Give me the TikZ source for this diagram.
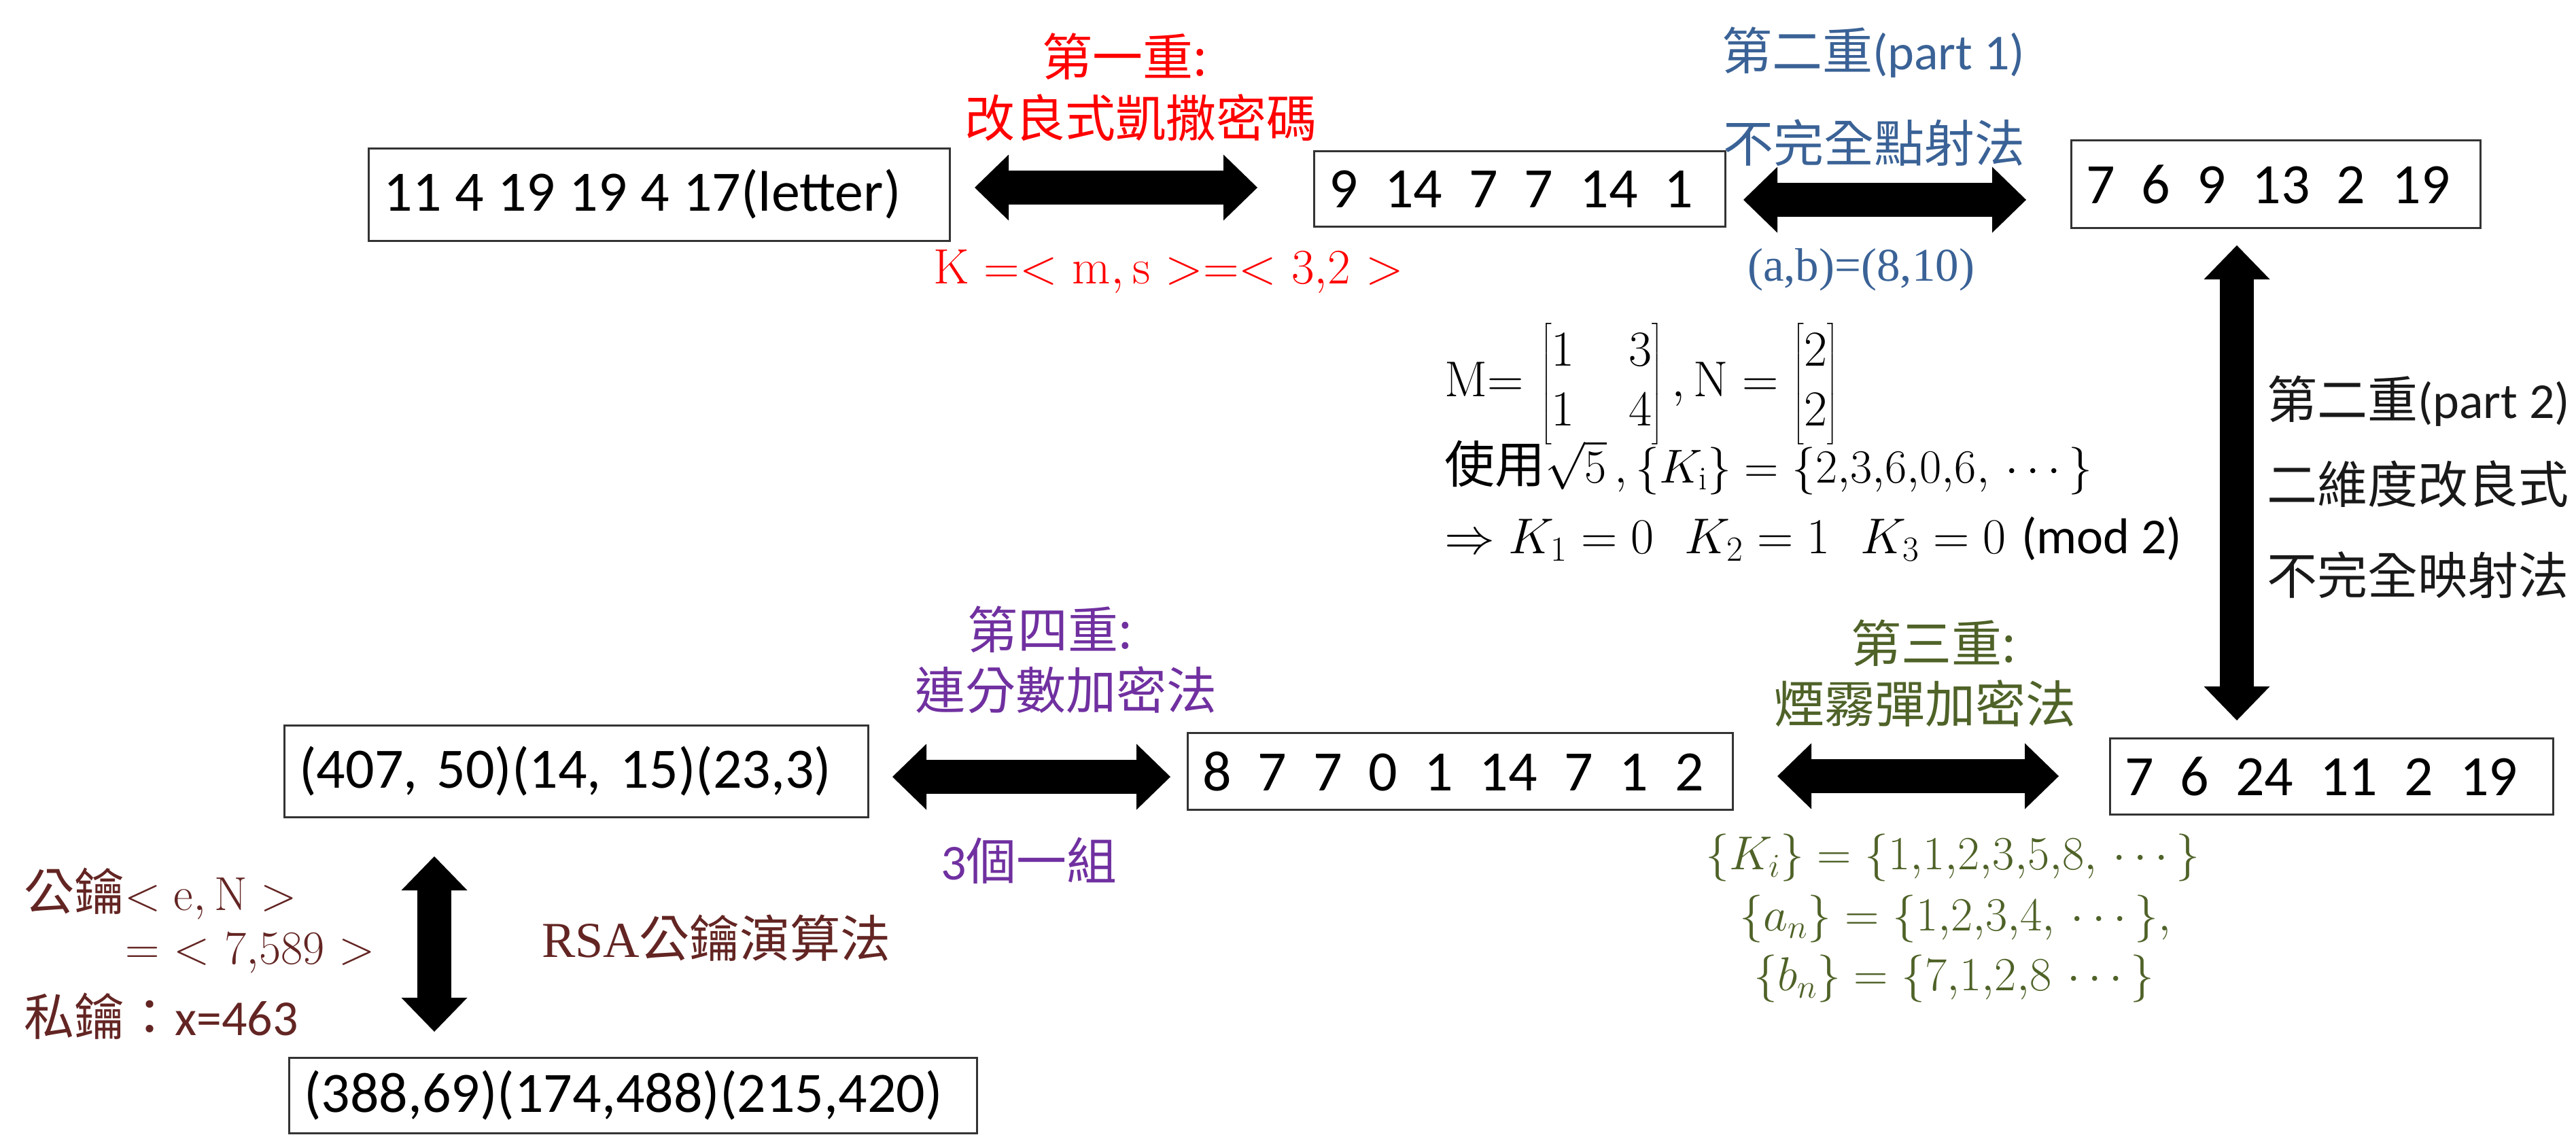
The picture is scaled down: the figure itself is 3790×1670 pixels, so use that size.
\RequirePackage{fix-cm}
\documentclass[tikz,border=0pt]{standalone}
\usepackage{amsmath}
\usepackage{fontspec}
\usetikzlibrary{arrows.meta}
\newfontfamily\cjk{Noto Sans CJK TC}
\newfontfamily\calib{Carlito}
\newfontfamily\tms{Liberation Serif}
\newcommand\fsz[1]{\fontsize{#1}{#1}\selectfont}
\newcommand\gapA{\hspace{20pt}}
\newcommand\gapB{\hspace{39pt}}
\definecolor{cred}{RGB}{255,0,0}
\definecolor{cblue}{RGB}{58,98,150}
\definecolor{cgreen}{RGB}{79,98,40}
\definecolor{cpurple}{RGB}{112,48,160}
\definecolor{cbrown}{RGB}{99,37,35}
\begin{document}
\begin{tikzpicture}[x=1pt,y=-1pt,
  box/.style={draw=black!80, line width=3pt, inner xsep=22pt, inner ysep=0pt, align=left, font=\calib\fsz{84}},
  lbl/.style={inner sep=0pt, font=\cjk\fsz{74}},
  mtx/.style={inner sep=0pt, anchor=west, font=\fontsize{74}{88}\selectfont},
  gset/.style={inner sep=0pt, text=cgreen, font=\fsz{70}},
  fat/.style={line width=50pt, {Triangle[width=97pt,length=50pt,line width=0pt]}-{Triangle[width=97pt,length=50pt,line width=0pt]}}]
\useasboundingbox (0,0) rectangle (3790,1670);
\fill[white] (0,0) rectangle (3790,1670);

% boxes
\node[box, text width=811pt, minimum height=136pt] (A) at (970,286) {11\gapA 4\gapA 19\gapA 19\gapA 4\gapA 17(letter)};
\node[box, text width=561pt, minimum height=111pt] (B) at (2236,278) {9\gapB 14\gapB 7\gapB 7\gapB 14\gapB 1};
\node[box, text width=558pt, minimum height=129pt] (C) at (3348,271) {7\gapB 6\gapB 9\gapB 13\gapB 2\gapB 19};
\node[box, text width=758pt, minimum height=113pt] (D) at (2148,1135) {8\gapB 7\gapB 7\gapB 0\gapB 1\gapB 14\gapB 7\gapB 1\gapB 2};
\node[box, text width=608pt, minimum height=112pt] (E) at (3430,1142) {7\gapB 6\gapB 24\gapB 11\gapB 2\gapB 19};
\node[box, text width=815pt, minimum height=135pt] (F) at (848,1135) {(407, 50)(14, 15)(23,3)};
\node[box, text width=968pt, minimum height=111pt] (G) at (931,1612) {(388,69)(174,488)(215,420)};

% arrow end points
\coordinate (a1L) at (1434,276); \coordinate (a1R) at (1850,276);
\coordinate (a2L) at (2565,294); \coordinate (a2R) at (2981,294);
\coordinate (a3L) at (2615,1142); \coordinate (a3R) at (3029,1142);
\coordinate (a4L) at (1313,1143); \coordinate (a4R) at (1722,1143);
\coordinate (v1T) at (3291,361); \coordinate (v1B) at (3291,1060);
\coordinate (v2T) at (639,1260); \coordinate (v2B) at (639,1518);
\draw[fat] (a1L) -- (a1R);
\draw[fat] (a2L) -- (a2R);
\draw[fat] (a3L) -- (a3R);
\draw[fat] (a4L) -- (a4R);
\draw[fat] (v1T) -- (v1B);
\draw[fat] (v2T) -- (v2B);

% first (red)
\node[lbl, text=cred] (r1a) at (1655,83) {第一重:};
\node[lbl, text=cred] (r1b) at (1678,173) {改良式凱撒密碼};
\node[inner sep=0pt, text=cred, font=\fsz{73}] (r1c) at (1719,400) {$\mathrm{K}\ {=}{<}\ \mathrm{m}{,}\,\mathrm{s}\ {>}{=}{<}\ 3{,}2\ {>}$};

% second part 1 (blue)
\node[lbl, text=cblue] (b1) at (2756,77) {第二重{\calib (part 1)}};
\node[lbl, text=cblue] (b2) at (2757,210) {不完全點射法};
\node[inner sep=0pt, text=cblue, font=\tms\fsz{69}] (b3) at (2738,397) {(a,b)=(8,10)};

% second part 2 (black)
\node[lbl, anchor=west, text=black!90] (s1) at (3335,590) {第二重{\calib (part 2)}};
\node[lbl, anchor=west, text=black!90] (s2) at (3335,712) {二維度改良式};
\node[lbl, anchor=west, text=black!90] (s3) at (3335,846) {不完全映射法};

% math block
\node[mtx] (m1) at (2125,565) {\setlength{\arraycolsep}{40pt}$\mathrm{M}{=}\,\begin{bmatrix}1&3\\1&4\end{bmatrix}{,}\,\mathrm{N}=\begin{bmatrix}2\\2\end{bmatrix}$};
\node[mtx, font=\fsz{70}] (m2) at (2125,688) {{\cjk\fsz{74}使用}$\sqrt{5}\,,\{K_{\mathrm{i}}\}=\{2{,}3{,}6{,}0{,}6{,}\,\cdots\}$};
\node[mtx] (m3) at (2125,793) {$\Rightarrow K_1=0\ \ K_2=1\ \ K_3=0$ {\calib (mod 2)}};

% third (green)
\node[lbl, text=cgreen] (g1) at (2845,946) {第三重:};
\node[lbl, text=cgreen] (g2) at (2832,1035) {煙霧彈加密法};
\node[gset] (g3) at (2873,1262) {$\{K_i\}=\{1{,}1{,}2{,}3{,}5{,}8{,}\,\cdots\}$};
\node[gset] (g4) at (2877,1352) {$\{a_n\}=\{1{,}2{,}3{,}4{,}\,\cdots\}{,}$};
\node[gset] (g5) at (2875,1440) {$\{b_n\}=\{7{,}1{,}2{,}8\,\cdots\}$};

% fourth (purple)
\node[lbl, text=cpurple] (p1) at (1545,926) {第四重:};
\node[lbl, text=cpurple] (p2) at (1568,1015) {連分數加密法};
\node[lbl, text=cpurple] (p3) at (1514,1266) {{\calib 3}個一組};

% RSA (brown)
\node[lbl, text=cbrown] (rsa) at (1054,1380) {{\tms RSA}公鑰演算法};
\node[lbl, anchor=west, text=cbrown] (k1) at (35,1315) {公鑰{\fsz{70}$<\mathrm{e},\mathrm{N}>$}};
\node[lbl, anchor=west, text=cbrown, font=\fsz{70}] (k2) at (184,1403) {${=}\ {<}\ 7{,}589\ {>}$};
\node[lbl, anchor=west, text=cbrown] (k3) at (35,1495) {私鑰：{\calib x=463}};
\end{tikzpicture}
\end{document}
